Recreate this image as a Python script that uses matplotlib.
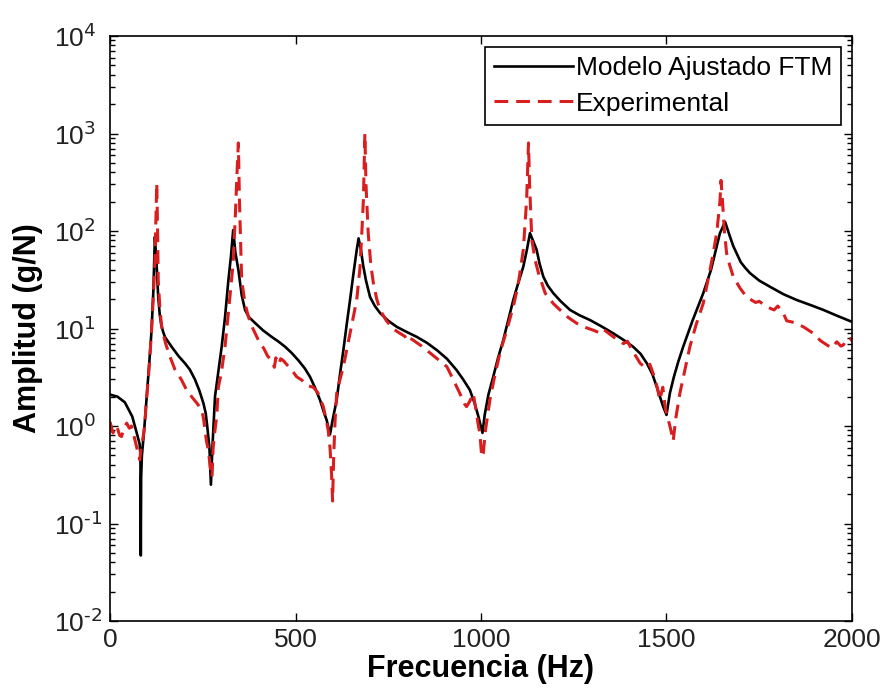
import numpy as np
import matplotlib
matplotlib.use('Agg')
import matplotlib.pyplot as plt
from matplotlib.ticker import LogLocator, NullFormatter, FixedLocator, FuncFormatter

plt.rcParams['font.family'] = ['Liberation Sans', 'DejaVu Sans']
plt.rcParams['mathtext.default'] = 'regular'
plt.rcParams['axes.unicode_minus'] = False

# modelo ajustado (linea negra)
freq_model = [0, 20, 40, 60, 72, 80, 82, 83, 84, 86, 92, 99, 106, 112, 117, 121,
              125, 130, 134, 138, 143, 148, 157, 166, 185, 202, 215, 229, 241, 252, 258,
              262, 268, 272, 276, 283, 292, 301, 310, 319, 326, 332,
              338, 346, 355, 364, 375, 391, 412, 436, 455, 472, 490, 508, 525, 539, 552,
              566, 576, 584, 593, 600, 611, 620, 629, 638, 647, 656, 665, 670,
              676, 683, 690, 701, 714, 728, 750, 773, 800, 827, 855, 881, 908, 934, 952,
              970, 983, 993, 1004, 1010, 1020, 1033, 1046, 1060, 1073, 1087, 1100, 1114,
              1124, 1132, 1140, 1150, 1158, 1168, 1180, 1195, 1215, 1240, 1265, 1294, 1325,
              1357, 1385, 1410, 1430, 1447, 1462, 1474, 1484, 1491, 1500, 1509, 1520, 1532,
              1545, 1570, 1599, 1620, 1644, 1658, 1670, 1680, 1689, 1700, 1712, 1725, 1750,
              1779, 1815, 1851, 1890, 1923, 1960, 2000]
amp_model = [2.1, 2.0, 1.75, 1.25, 0.85, 0.65, 0.5, 0.047, 0.3, 0.5, 0.9, 2.0, 4.5, 9.6, 25, 87,
             50, 21, 14, 11, 9.3, 8.2, 7.3, 6.5, 5.2, 4.4, 3.8, 3.0, 2.3, 1.7, 1.35,
             1.0, 0.6, 0.25, 0.6, 2.0, 3.6, 6.5, 13, 31, 55, 102,
             60, 40, 22, 15.5, 13, 11.4, 9.6, 8.2, 7.3, 6.5, 5.6, 4.7, 3.9, 3.2, 2.5,
             1.85, 1.4, 1.15, 0.82, 1.15, 1.85, 3.4, 6.0, 11, 19.6, 36, 64, 84,
             65, 43, 31, 21, 17, 14.4, 12, 10.4, 9.2, 8.2, 7.1, 6.0, 4.9, 3.75, 3.0,
             2.34, 1.7, 1.25, 0.85, 1.3, 2.1, 3.2, 5.0, 7.6, 12, 19.6, 29, 43,
             65, 95, 80, 64, 46, 34, 27.5, 23, 19, 15.5, 13.7, 12.2, 10.5,
             8.9, 7.6, 6.5, 5.5, 4.4, 3.4, 2.5, 1.9, 1.58, 1.3, 2.16, 3.2, 4.6,
             6.5, 12, 23, 40, 95, 124, 90, 70, 59, 48, 42, 37, 31,
             26.8, 22.5, 19.6, 17.3, 15.5, 13.5, 11.7]

# medicion experimental (linea roja discontinua)
freq_exp = [0, 8, 14, 20, 26, 31, 38, 45, 52, 58, 63, 70, 76, 80, 84, 90, 94, 98, 103,
            108, 112, 117, 121, 124, 126, 128, 130, 135, 140, 150, 162, 175, 193, 205,
            220, 235, 247, 252, 256, 260, 265, 268, 272, 275, 278, 283, 288, 292, 300,
            310, 316, 323, 332, 338, 343, 346, 349, 355, 364, 373, 385, 400, 415, 425,
            436, 443, 447, 455, 460, 467, 478, 490, 503, 517, 530, 548, 560, 575, 582,
            588, 593, 597, 600, 603, 607, 611, 620, 629, 638, 647, 656, 665, 670, 674,
            679, 683, 687, 690, 696, 703, 710, 719, 728, 745, 765, 782, 795, 800, 808,
            817, 840, 863, 885, 908, 925, 943, 955, 961, 970, 979, 986, 993, 997, 1002,
            1006, 1012, 1018, 1024, 1035, 1051, 1069, 1087, 1100, 1114, 1123, 1128, 1131,
            1137, 1146, 1155, 1173, 1195, 1213, 1235, 1258, 1280, 1303, 1320, 1330, 1357,
            1384, 1395, 1405, 1429, 1445, 1455, 1464, 1475, 1482, 1490, 1497, 1505, 1512,
            1518, 1525, 1536, 1550, 1563, 1580, 1599, 1613, 1626, 1636, 1644, 1647, 1651,
            1656, 1662, 1670, 1680, 1698, 1716, 1740, 1750, 1770, 1790, 1800, 1815, 1824,
            1845, 1869, 1896, 1915, 1932, 1945, 1959, 1970, 1977, 1988, 1995, 2000]
amp_exp = [1.1, 0.85, 1.0, 0.95, 0.8, 0.78, 0.95, 1.07, 0.95, 1.0, 0.84, 0.65, 0.52, 0.45, 0.6, 0.8, 1.07, 1.8, 2.96,
           5.5, 9.6, 22, 47, 150, 310, 120, 31, 15, 10, 7.0, 5.1, 3.8, 2.96, 2.4,
           2.0, 1.7, 1.46, 1.2, 0.91, 0.7, 0.57, 0.45, 0.33, 0.3, 0.6, 0.91, 1.3, 2.5, 3.5,
           6.5, 11, 21, 47, 150, 450, 800, 200, 31, 18, 13.2, 10, 7.6, 6.2, 5.2,
           4.7, 4.0, 5.0, 4.3, 4.9, 4.7, 4.2, 3.75, 3.2, 2.96, 2.6, 2.5, 2.2, 1.58, 1.2,
           0.91, 0.6, 0.33, 0.17, 0.5, 1.2, 2.16, 3.0, 4.06, 6.0, 8.9, 13, 19.6, 30, 43,
           100, 208, 1000, 300, 95, 45, 29, 20, 15.5, 12, 9.8, 8.9, 8.3, 7.5, 8.0,
           7.6, 6.6, 5.6, 4.8, 4.06, 3.0, 2.16, 1.7, 1.58, 1.8, 2.16, 1.5, 1.0, 0.84, 0.48,
           0.52, 0.9, 1.3, 1.85, 3.0, 5.6, 9.5, 16.7, 28, 64, 208, 800, 300,
           81, 50, 37, 23, 18, 15.5, 13, 11.3, 10.3, 9.6, 9.0, 9.8, 8.2,
           7.0, 7.4, 6.2, 4.4, 3.9, 4.3, 3.46, 2.5, 1.85, 2.5, 1.5, 1.15, 0.9,
           0.7, 1.2, 2.16, 3.8, 6.5, 11, 18.1, 33, 59, 100, 200, 330, 200,
           100, 59, 45, 34, 26, 21, 18.5, 19, 16.7, 15.5, 17, 14.3, 12,
           11.5, 10.4, 8.9, 7.5, 6.8, 6.3, 7.3, 6.6, 6.8, 8.0, 7.9, 7.5]

xticks = [0, 500, 1000, 1500, 2000]
yticks = [1e-2, 1e-1, 1e0, 1e1, 1e2, 1e3, 1e4]


def pow10(v, pos):
    e = int(round(np.log10(v)))
    # guion normal en el exponente, como en matlab
    return r'$10^{\text{%d}}$' % e


fig = plt.figure(figsize=(8.85, 6.93), dpi=100)
ax = fig.add_axes([110/885, 1-621/693, 742/885, 585/693])

ax.semilogy(freq_model, amp_model, color='black', lw=1.9, label='Modelo Ajustado FTM')
ax.semilogy(freq_exp, amp_exp, color='#d81e1e', lw=2.2, dashes=[4.5, 2.6], label='Experimental')

ax.set_xlim(0, 2000)
ax.set_ylim(1e-2, 1e4)
ax.xaxis.set_major_locator(FixedLocator(xticks))
ax.yaxis.set_major_locator(FixedLocator(yticks))
ax.yaxis.set_major_formatter(FuncFormatter(pow10))
ax.yaxis.set_minor_locator(LogLocator(base=10, subs=np.arange(2, 10), numticks=20))
ax.yaxis.set_minor_formatter(NullFormatter())

ax.tick_params(which='both', direction='in', top=True, right=True, colors='black',
               labelcolor='#222222', labelsize=19)
ax.tick_params(which='major', length=6, width=1)
ax.tick_params(which='minor', length=3.5, width=1)
ax.tick_params(axis='x', pad=5)
ax.tick_params(axis='y', pad=40)
for lab in ax.get_yticklabels():
    lab.set_horizontalalignment('left')
for sp in ax.spines.values():
    sp.set_linewidth(1.2)

ax.set_xlabel('Frecuencia (Hz)', fontsize=22, fontweight='bold')
ax.set_ylabel('Amplitud (g/N)', fontsize=22, fontweight='bold')
ax.xaxis.set_label_coords(0.5, -0.056)
ax.yaxis.set_label_coords(-0.09, 0.5)

leg = ax.legend(loc='upper right', fontsize=19, fancybox=False, framealpha=1,
                edgecolor='black', handlelength=3.0, handletextpad=0.1,
                borderpad=0.35, labelspacing=0.45, borderaxespad=0.4)
leg.get_frame().set_linewidth(1.2)

fig.savefig('out.png', dpi=100, facecolor='white')
